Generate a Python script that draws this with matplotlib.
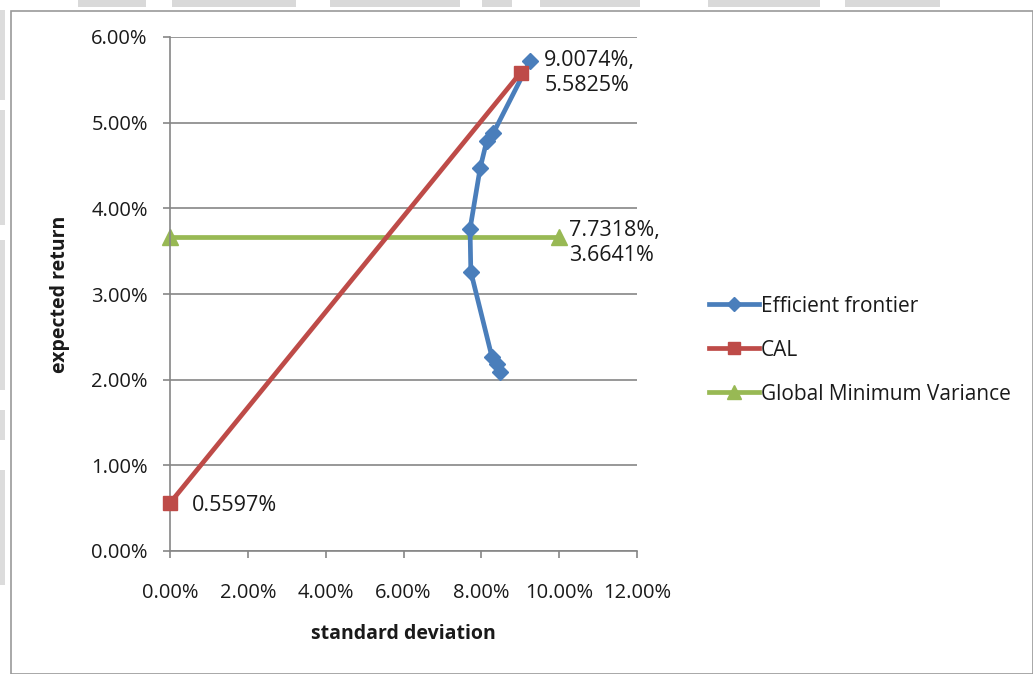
import matplotlib
matplotlib.use("Agg")
import matplotlib.pyplot as plt
from matplotlib.patches import Rectangle
from matplotlib.ticker import FuncFormatter

plt.rcParams["font.family"] = ["Open Sans", "DejaVu Sans"]

# Efficient frontier (standard deviation %, expected return %)
frontier_sd = [9.25, 8.31, 8.14, 7.97, 7.71, 7.73, 8.27, 8.39, 8.48]
frontier_ret = [5.72, 4.88, 4.79, 4.47, 3.76, 3.26, 2.27, 2.18, 2.09]

# Capital allocation line
cal_sd = [0.0, 9.0074]
cal_ret = [0.5597, 5.5825]

# Global minimum variance level
gmv_sd = [0.0, 10.0]
gmv_ret = [3.6641, 3.6641]
gmv_label = "7.7318%,\n3.6641%"

x_ticks = [0, 2, 4, 6, 8, 10, 12]
y_ticks = [0, 1, 2, 3, 4, 5, 6]

BLUE = "#4A7EBB"
RED = "#BE4B48"
GREEN = "#98B954"
TEXT = "#1a1a1a"

W, H = 1033, 674
fig = plt.figure(figsize=(W / 100, H / 100), dpi=100)
fig.patch.set_facecolor("white")

# outer chart border and the strip of page behind it
fig.patches.append(Rectangle((11 / W, 0), (W - 11) / W, (H - 11) / H,
                             transform=fig.transFigure, fill=False,
                             edgecolor="#9a9a9a", linewidth=1.2))
top_bars = [(78, 146), (172, 296), (330, 460), (482, 512), (540, 640),
            (708, 820), (845, 940)]
for x0, x1 in top_bars:
    fig.patches.append(Rectangle((x0 / W, (H - 7) / H), (x1 - x0) / W, 7 / H,
                                 transform=fig.transFigure, color="#d9d9d9",
                                 linewidth=0))
for y0, y1 in [(10, 100), (110, 225), (240, 390), (410, 440), (470, 585)]:
    fig.patches.append(Rectangle((0, (H - y1) / H), 5 / W, (y1 - y0) / H,
                                 transform=fig.transFigure, color="#dcdcdc",
                                 linewidth=0))

ax = fig.add_axes([170 / W, (H - 551) / H, (637 - 170) / W, (551 - 37) / H])
ax.set_xlim(0, 12)
ax.set_ylim(0, 6)
ax.set_xticks(x_ticks)
ax.set_yticks(y_ticks)
pct = FuncFormatter(lambda v, _: f"{v:.2f}%")
ax.xaxis.set_major_formatter(pct)
ax.yaxis.set_major_formatter(pct)

for s in ["top", "right"]:
    ax.spines[s].set_visible(False)
for s in ["left", "bottom"]:
    ax.spines[s].set_color("#868686")
    ax.spines[s].set_linewidth(1.2)
ax.yaxis.grid(True, color="#868686", linewidth=1.2)
ax.set_axisbelow(True)
ax.tick_params(axis="both", direction="out", length=5, width=1.2,
               color="#868686", labelsize=14.5, labelcolor=TEXT)
ax.tick_params(axis="x", pad=18)
ax.tick_params(axis="y", pad=11)

ax.plot(frontier_sd, frontier_ret, color=BLUE, linewidth=3.4, marker="D",
        markersize=8.5, markerfacecolor=BLUE, markeredgecolor=BLUE,
        label="Efficient frontier", zorder=3, clip_on=False)
ax.plot(cal_sd, cal_ret, color=RED, linewidth=3.4, marker="s",
        markersize=10.5, markerfacecolor=RED, markeredgecolor=RED,
        label="CAL", zorder=4, clip_on=False)
ax.plot(gmv_sd, gmv_ret, color=GREEN, linewidth=3.4, marker="^",
        markersize=11.5, markerfacecolor=GREEN, markeredgecolor=GREEN,
        label="Global Minimum Variance", zorder=2, clip_on=False)

ax.annotate(f"{cal_sd[1]:.4f}%,\n{cal_ret[1]:.4f}%", (cal_sd[1], cal_ret[1]),
            xytext=(17, 0), textcoords="offset points", fontsize=15.5,
            color=TEXT, va="center", ha="left", linespacing=1.25)
ax.annotate(gmv_label, (gmv_sd[1], gmv_ret[1]),
            xytext=(7, -4), textcoords="offset points", fontsize=15.5,
            color=TEXT, va="center", ha="left", linespacing=1.25)
ax.annotate(f"{cal_ret[0]:.4f}%", (cal_sd[0], cal_ret[0]),
            xytext=(16, -2), textcoords="offset points", fontsize=15.5,
            color=TEXT, va="center", ha="left")

ax.set_xlabel("standard deviation", fontsize=14, fontweight="bold",
              color=TEXT, labelpad=15)
ax.set_ylabel("expected return", fontsize=14, fontweight="bold",
              color=TEXT, labelpad=15)

fig.legend(loc="upper left", bbox_to_anchor=(690 / W, (H - 277) / H),
           frameon=False, fontsize=15, handlelength=2.4, handletextpad=0.1,
           labelspacing=1.1, markerscale=0.85, labelcolor=TEXT)

fig.savefig("out.png", dpi=100, facecolor="white")
